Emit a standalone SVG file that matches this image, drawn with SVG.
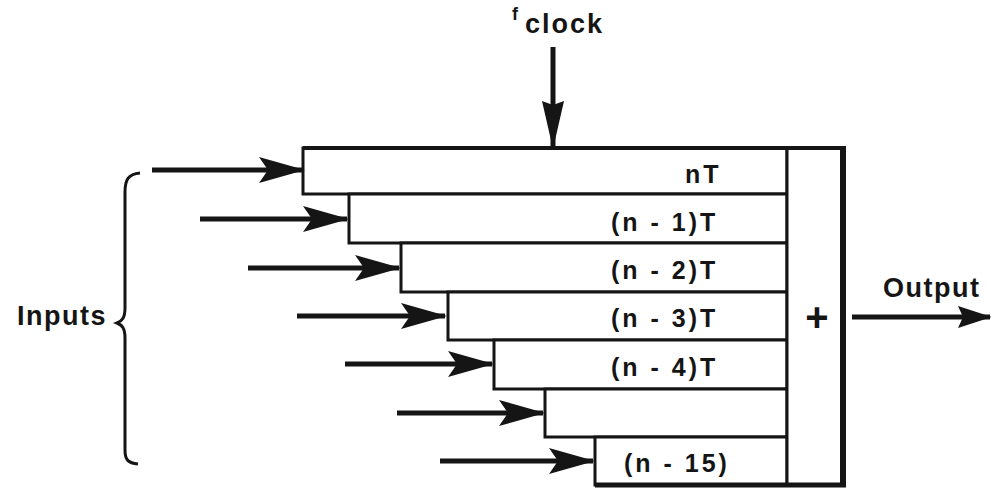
<svg xmlns="http://www.w3.org/2000/svg" width="991" height="492" viewBox="0 0 991 492">
<defs>
<style>
.bg{fill:#fff}
.row{fill:#fff;stroke:#151515;stroke-width:3}
.lbl{font-family:"Liberation Sans",Arial,sans-serif;font-weight:bold;font-size:25px;fill:#151515;letter-spacing:3px}
.big{font-family:"Liberation Sans",Arial,sans-serif;font-weight:bold;font-size:27px;fill:#151515;letter-spacing:1.5px}
.wire{stroke:#151515;stroke-width:5;fill:none}
</style>
<marker id="ah" viewBox="0 0 46 26" refX="44" refY="13" markerWidth="46" markerHeight="26" markerUnits="userSpaceOnUse" orient="auto">
<path d="M0,0 L46,13 L0,26 L9,13 Z" fill="#151515"/>
</marker>
<marker id="ahv" viewBox="0 0 48 22" refX="46" refY="11" markerWidth="48" markerHeight="22" markerUnits="userSpaceOnUse" orient="auto">
<path d="M0,0 L48,11 L0,22 L4,11 Z" fill="#151515"/>
</marker>
<marker id="ahs" viewBox="0 0 34 22" refX="32" refY="11" markerWidth="34" markerHeight="22" markerUnits="userSpaceOnUse" orient="auto">
<path d="M0,0 L34,11 L0,22 L5,11 Z" fill="#151515"/>
</marker>
</defs>
<rect class="bg" x="0" y="0" width="991" height="492"/>

<g id="row-nT">
<rect class="row" x="303" y="148" width="484" height="46"/>
<text class="lbl" x="685" y="183">nT</text>
</g>
<g id="row-n1">
<rect class="row" x="349" y="194" width="438" height="49"/>
<text class="lbl" x="611" y="231">(n - 1)T</text>
</g>
<g id="row-n2">
<rect class="row" x="401" y="243" width="386" height="49"/>
<text class="lbl" x="611" y="279">(n - 2)T</text>
</g>
<g id="row-n3">
<rect class="row" x="448" y="292" width="339" height="48"/>
<text class="lbl" x="611" y="327">(n - 3)T</text>
</g>
<g id="row-n4">
<rect class="row" x="494" y="340" width="293" height="49"/>
<text class="lbl" x="611" y="376">(n - 4)T</text>
</g>
<g id="row-blank">
<rect class="row" x="545" y="389" width="242" height="48"/>
</g>
<g id="row-n15">
<rect class="row" x="595" y="437" width="192" height="48"/>
<text class="lbl" x="624" y="472">(n - 15)</text>
</g>
<g id="summer">
<rect x="787" y="148" width="56" height="337" fill="#fff" stroke="#151515" stroke-width="3"/>
<line x1="843" y1="146" x2="843" y2="487" stroke="#151515" stroke-width="6"/>
<line x1="303" y1="148" x2="846" y2="148" stroke="#151515" stroke-width="4"/>
<line x1="595" y1="485" x2="846" y2="485" stroke="#151515" stroke-width="5"/>
<text x="817" y="331" text-anchor="middle" font-family="Liberation Sans, Arial, sans-serif" font-weight="bold" font-size="40" fill="#151515">+</text>
</g>

<g id="labels">
<text x="512" y="20" font-family="Liberation Sans, Arial, sans-serif" font-weight="bold" font-size="18" fill="#151515">f</text>
<text x="525" y="33" font-family="Liberation Sans, Arial, sans-serif" font-weight="bold" font-size="27" fill="#151515" letter-spacing="2">clock</text>
<text class="big" x="17" y="325">Inputs</text>
<text class="big" x="883" y="297">Output</text>
<path d="M140,173 C128,174 125,180 125,192 L125,308 C125,318 122,321 117,323 C122,325 125,328 125,338 L125,450 C125,460 128,463 138,464" fill="none" stroke="#151515" stroke-width="3"/>
</g>

<g id="connectors">
<line class="wire" x1="553" y1="47" x2="553" y2="147" stroke-width="3" marker-end="url(#ahv)"/>
<line class="wire" x1="152" y1="170" x2="303" y2="170" stroke-width="6" marker-end="url(#ah)"/>
<line class="wire" x1="200" y1="219" x2="347" y2="219" marker-end="url(#ah)"/>
<line class="wire" x1="248" y1="268" x2="399" y2="268" marker-end="url(#ah)"/>
<line class="wire" x1="297" y1="316" x2="445" y2="316" marker-end="url(#ah)"/>
<line class="wire" x1="345" y1="364" x2="492" y2="364" marker-end="url(#ah)"/>
<line class="wire" x1="397" y1="413" x2="543" y2="413" marker-end="url(#ah)"/>
<line class="wire" x1="440" y1="461" x2="593" y2="461" marker-end="url(#ah)"/>
<line class="wire" x1="852" y1="317" x2="990" y2="317" stroke-width="5" marker-end="url(#ahs)"/>
</g>
</svg>
